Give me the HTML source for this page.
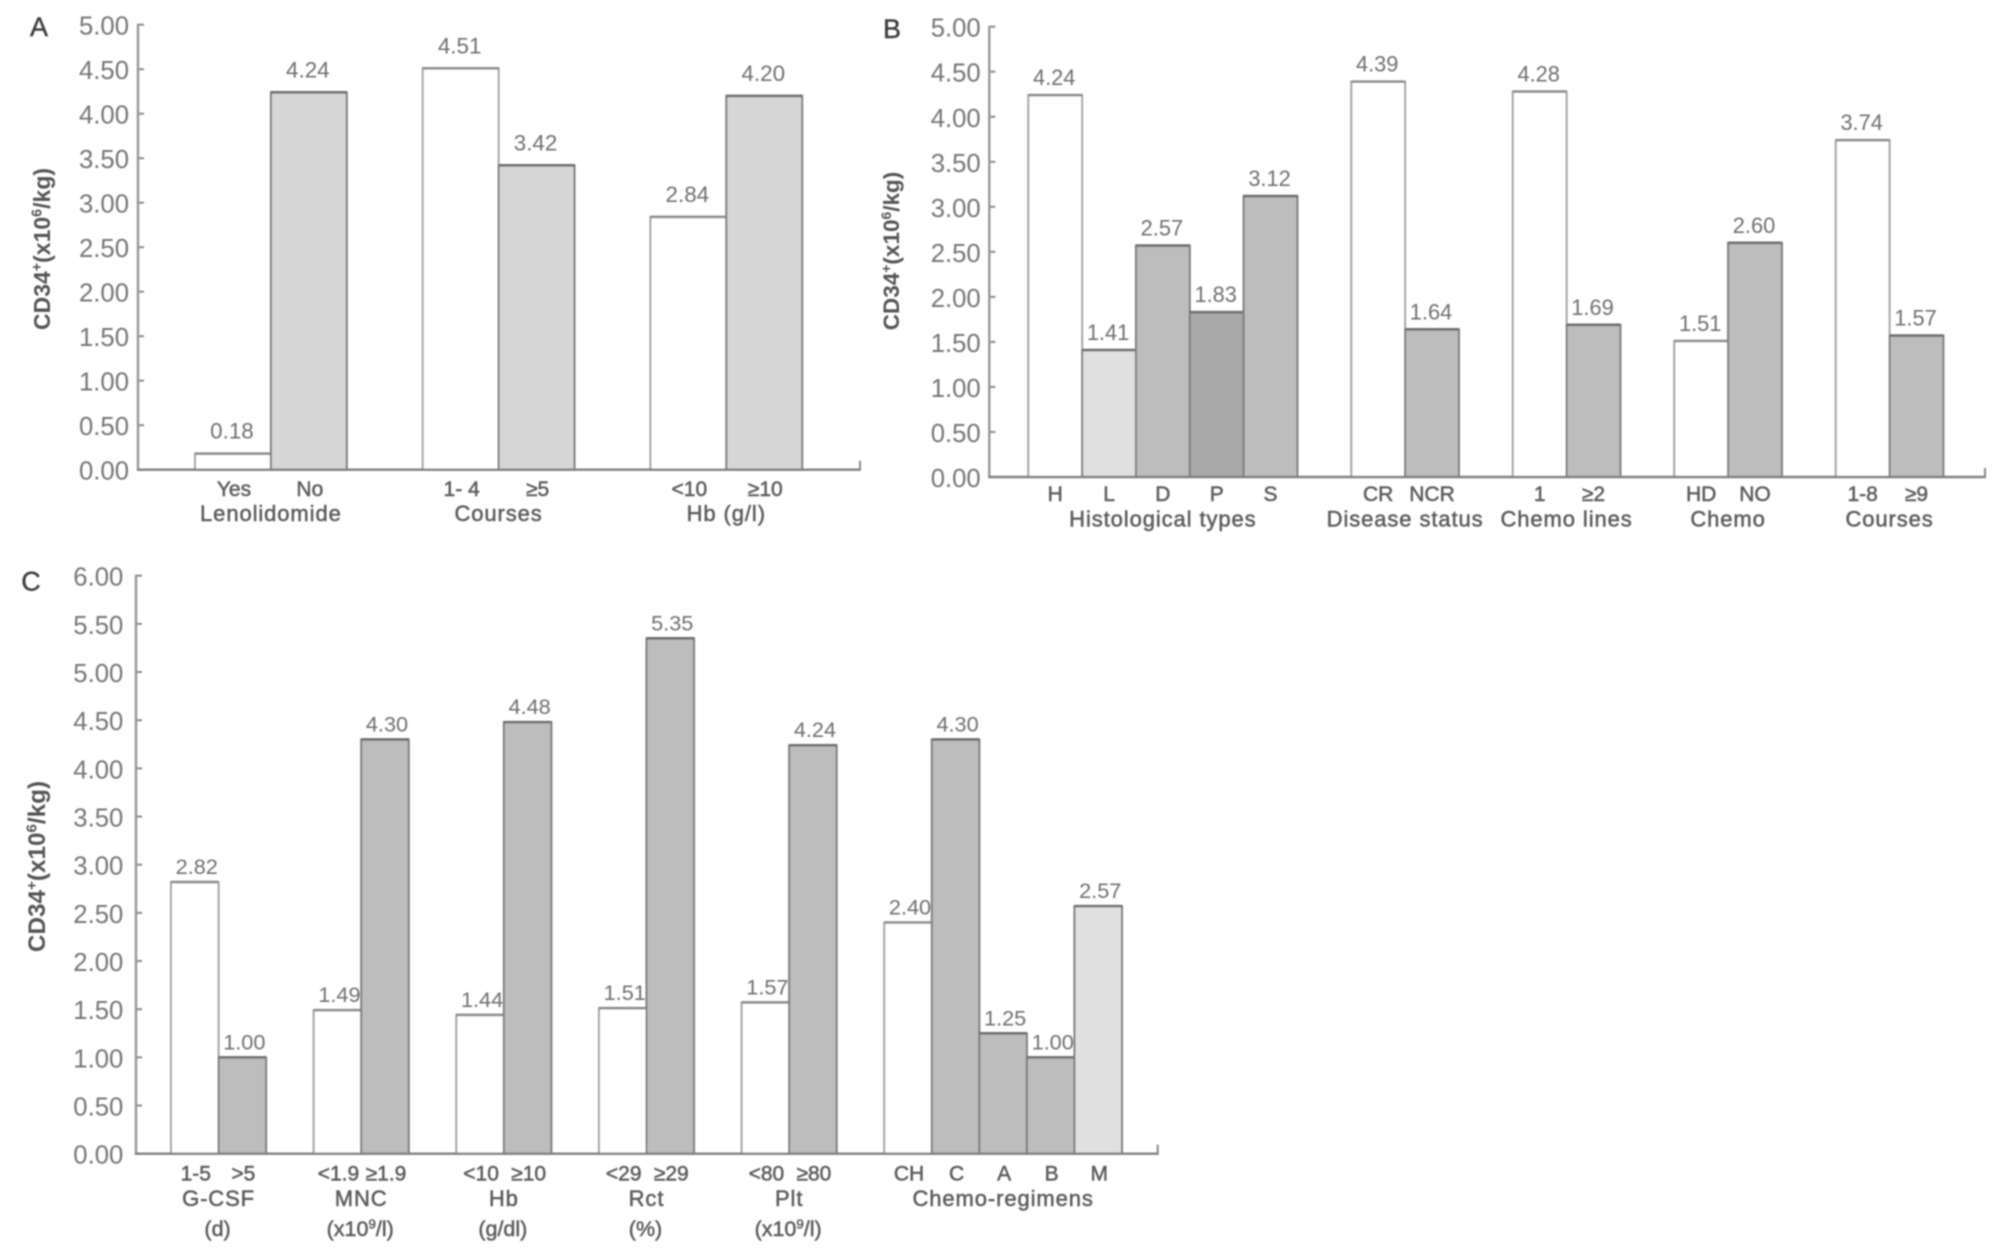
<!DOCTYPE html>
<html lang="en">
<head>
<meta charset="utf-8">
<title>CD34+ yield by patient characteristics</title>
<style>
  html, body { margin: 0; padding: 0; background: #ffffff; }
  body { width: 2008px; height: 1260px; overflow: hidden; }
  svg { display: block; }
  text { font-family: "Liberation Sans", sans-serif; }
</style>
</head>
<body>
<svg id="figure" xmlns="http://www.w3.org/2000/svg" width="2008" height="1260" viewBox="0 0 2008 1260">
  <defs>
    <filter id="soft" x="0" y="0" width="100%" height="100%" filterUnits="userSpaceOnUse" primitiveUnits="userSpaceOnUse">
      <feGaussianBlur stdDeviation="0.9"></feGaussianBlur>
    </filter>
  </defs>
  <rect x="0" y="0" width="2008" height="1260" fill="#ffffff"></rect>
  <g id="root" filter="url(#soft)"></g>
</svg>
<script>
// Panel A data
const panelATicks = [0, 0.5, 1, 1.5, 2, 2.5, 3, 3.5, 4, 4.5, 5];
const panelAGroupSizes = [2, 2, 2];
const panelACategories = ["Yes", "No", "1- 4", "≥5", "<10", "≥10"];
const panelAGroupTitles = ["Lenolidomide", "Courses", "Hb (g/l)"];
const panelAValues = [0.18, 4.24, 4.51, 3.42, 2.84, 4.20];

// Panel B data
const panelBTicks = [0, 0.5, 1, 1.5, 2, 2.5, 3, 3.5, 4, 4.5, 5];
const panelBGroupSizes = [5, 2, 2, 2, 2];
const panelBCategories = ["H", "L", "D", "P", "S", "CR", "NCR", "1", "≥2", "HD", "NO", "1-8", "≥9"];
const panelBGroupTitles = ["Histological types", "Disease status", "Chemo lines", "Chemo", "Courses"];
const panelBValues = [4.24, 1.41, 2.57, 1.83, 3.12, 4.39, 1.64, 4.28, 1.69, 1.51, 2.60, 3.74, 1.57];

// Panel C data
const panelCTicks = [0, 0.5, 1, 1.5, 2, 2.5, 3, 3.5, 4, 4.5, 5, 5.5, 6];
const panelCGroupSizes = [2, 2, 2, 2, 2, 5];
const panelCCategories = ["1-5", ">5", "<1.9", "≥1.9", "<10", "≥10", "<29", "≥29", "<80", "≥80", "CH", "C", "A", "B", "M"];
const panelCGroupTitles = ["G-CSF", "MNC", "Hb", "Rct", "Plt", "Chemo-regimens"];
const panelCGroupUnits = ["(d)", "(x10^9^/l)", "(g/dl)", "(%)", "(x10^9^/l)", ""];
const panelCValues = [2.82, 1.00, 1.49, 4.30, 1.44, 4.48, 1.51, 5.35, 1.57, 4.24, 2.40, 4.30, 1.25, 1.00, 2.57];

const SVG_NS = "http://www.w3.org/2000/svg";
const root = document.getElementById("root");

function make(tag, parent, attrs) {
  const el = document.createElementNS(SVG_NS, tag);
  for (const k in attrs) el.setAttribute(k, attrs[k]);
  parent.appendChild(el);
  return el;
}

// Writes text where ^...^ marks a superscript run, keeping everything as real characters.
function fillRichText(el, str, fontSize) {
  const parts = str.split("^");
  const shift = fontSize * 0.36;
  parts.forEach(function (part, i) {
    if (!part) return;
    const t = make("tspan", el, {});
    t.textContent = part;
    if (i % 2 === 1) {
      t.setAttribute("font-size", (fontSize * 0.62).toFixed(1));
      t.setAttribute("dy", (-shift).toFixed(1));
    } else if (i > 0) {
      t.setAttribute("dy", shift.toFixed(1));
    }
  });
}

function drawPanel(p) {
  const g = make("g", root, {});
  
  

  const maxTick = p.ticks[p.ticks.length - 1];
  const y = function (v) { return p.y0 - v * (p.y0 - p.yTop) / maxTick; };

  // panel letter
  const letter = make("text", g, { x: p.letterX, y: p.letterY, "font-size": 27, fill: "#3c3c3c", stroke: "#3c3c3c", "stroke-width": 0.4, "text-anchor": "middle" });
  letter.textContent = p.id;
  
  

  // y axis title
  const title = make("text", g, {
    transform: "translate(" + p.titleX + "," + p.titleY + ") rotate(-90)",
    "font-size": p.titleSize, "font-weight": "bold", fill: "#555555", "text-anchor": "middle"
  });
  fillRichText(title, "CD34^+^(x10^6^/kg)", p.titleSize);
  
  

  // y ticks and tick labels
  p.ticks.forEach(function (t) {
    const tick = make("line", g, { x1: p.x0, x2: p.x0 + 6, y1: y(t), y2: y(t), stroke: "#8a8a8a", "stroke-width": 2 });
    
    
    const lab = make("text", g, { x: p.tickRight, y: y(t) + 10, "font-size": 25.7, fill: "#767676", "text-anchor": "end" });
    lab.textContent = t.toFixed(2);
    
    
  });

  // bars
  const bx = function (slot) { return p.barStart + slot * p.band; };
  let slot = 0;
  let idx = 0;
  p.groupSizes.forEach(function (size, gi) {
    const startSlot = slot;
    for (let b = 0; b < size; b++) {
      const v = p.values[idx];
      const left = bx(slot);
      const top = y(v);
      const tone = p.toneFor(p.categories[idx], b);
      const rect = make("rect", g, {
        x: left, y: top, width: p.band, height: p.y0 - top,
        fill: tone, stroke: tone === "#ffffff" ? "#a2a2a2" : "#7e7e7e", "stroke-width": 2
      });
      
      

      const cap = make("line", g, { x1: left, x2: left + p.band, y1: top, y2: top, stroke: tone === "#ffffff" ? "#8c8c8c" : "#6e6e6e", "stroke-width": 2.6 });
      
      

      const val = make("text", g, { x: left + p.band / 2 + p.valueDx, y: top - p.valueGap, "font-size": p.valueSize, fill: "#707070", "text-anchor": "middle" });
      val.textContent = v.toFixed(2);
      
      

      const cat = make("text", g, { x: left + p.band / 2 + p.catDx, y: p.catY, "font-size": 21, fill: "#5c5c5c", stroke: "#5c5c5c", "stroke-width": 0.5, "text-anchor": "middle" });
      cat.textContent = p.categories[idx];
      
      

      slot++;
      idx++;
    }
    const center = (bx(startSlot) + bx(slot)) / 2;
    const gt = make("text", g, { x: center, y: p.groupY, "font-size": 22, "letter-spacing": 0.9, fill: "#5c5c5c", stroke: "#5c5c5c", "stroke-width": 0.5, "text-anchor": "middle" });
    gt.textContent = p.groupTitles[gi];
    
    

    if (p.groupUnits && p.groupUnits[gi]) {
      const unit = make("text", g, { x: center - 1, y: p.unitY, "font-size": 21.5, fill: "#5c5c5c", stroke: "#5c5c5c", "stroke-width": 0.5, "text-anchor": "middle" });
      fillRichText(unit, p.groupUnits[gi], 21.5);
      
      
    }
    slot++;
  });

  // axes drawn last so they sit over the bar bases
  const yAxis = make("line", g, { x1: p.x0, x2: p.x0, y1: p.yTop - 1, y2: p.y0 + 1, stroke: "#969696", "stroke-width": 2.4 });
  
  

  const xAxis = make("line", g, { x1: p.x0 - 1, x2: p.xEnd + 1, y1: p.y0, y2: p.y0, stroke: "#808080", "stroke-width": 2.4 });
  
  

  const endTick = make("line", g, { x1: p.xEnd, x2: p.xEnd, y1: p.y0 - 9, y2: p.y0, stroke: "#8a8a8a", "stroke-width": 2 });
  
  
}

const WHITE = "#ffffff";

drawPanel({
  id: "A", ticks: panelATicks, groupSizes: panelAGroupSizes, categories: panelACategories,
  groupTitles: panelAGroupTitles, values: panelAValues,
  toneFor: function (name, pos) { return pos === 0 ? WHITE : "#d6d6d6"; },
  x0: 138, xEnd: 860, yTop: 24.7, y0: 469.7, barStart: 195, band: 75.9,
  tickRight: 129, valueGap: 15, valueSize: 22.4, valueDx: -1, catDx: 1, catY: 496, groupY: 521,
  letterX: 39, letterY: 36, titleX: 50, titleY: 249, titleSize: 23
});

drawPanel({
  id: "B", ticks: panelBTicks, groupSizes: panelBGroupSizes, categories: panelBCategories,
  groupTitles: panelBGroupTitles, values: panelBValues,
  toneFor: function (name, pos) {
    if (pos === 0) return WHITE;
    if (name === "L") return "#e0e0e0";
    if (name === "P") return "#a9a9a9";
    return "#bdbdbd";
  },
  x0: 989.3, xEnd: 1985, yTop: 26.7, y0: 477, barStart: 1028.3, band: 53.83,
  tickRight: 980.7, valueGap: 10, valueSize: 21.8, valueDx: -1, catDx: 0, catY: 501, groupY: 526.7,
  letterX: 892, letterY: 38, titleX: 899, titleY: 251, titleSize: 22.5
});

drawPanel({
  id: "C", ticks: panelCTicks, groupSizes: panelCGroupSizes, categories: panelCCategories,
  groupTitles: panelCGroupTitles, groupUnits: panelCGroupUnits, values: panelCValues,
  toneFor: function (name, pos) {
    if (pos === 0) return WHITE;
    if (name === "M") return "#e0e0e0";
    return "#bdbdbd";
  },
  x0: 136, xEnd: 1157.7, yTop: 575.7, y0: 1153.7, barStart: 171, band: 47.55,
  tickRight: 123.3, valueGap: 8, valueSize: 21.7, valueDx: 2, catDx: 1, catY: 1180.7, groupY: 1206, unitY: 1236,
  letterX: 31, letterY: 590.7, titleX: 45, titleY: 866.5, titleSize: 24.3
});
</script>
</body>
</html>
